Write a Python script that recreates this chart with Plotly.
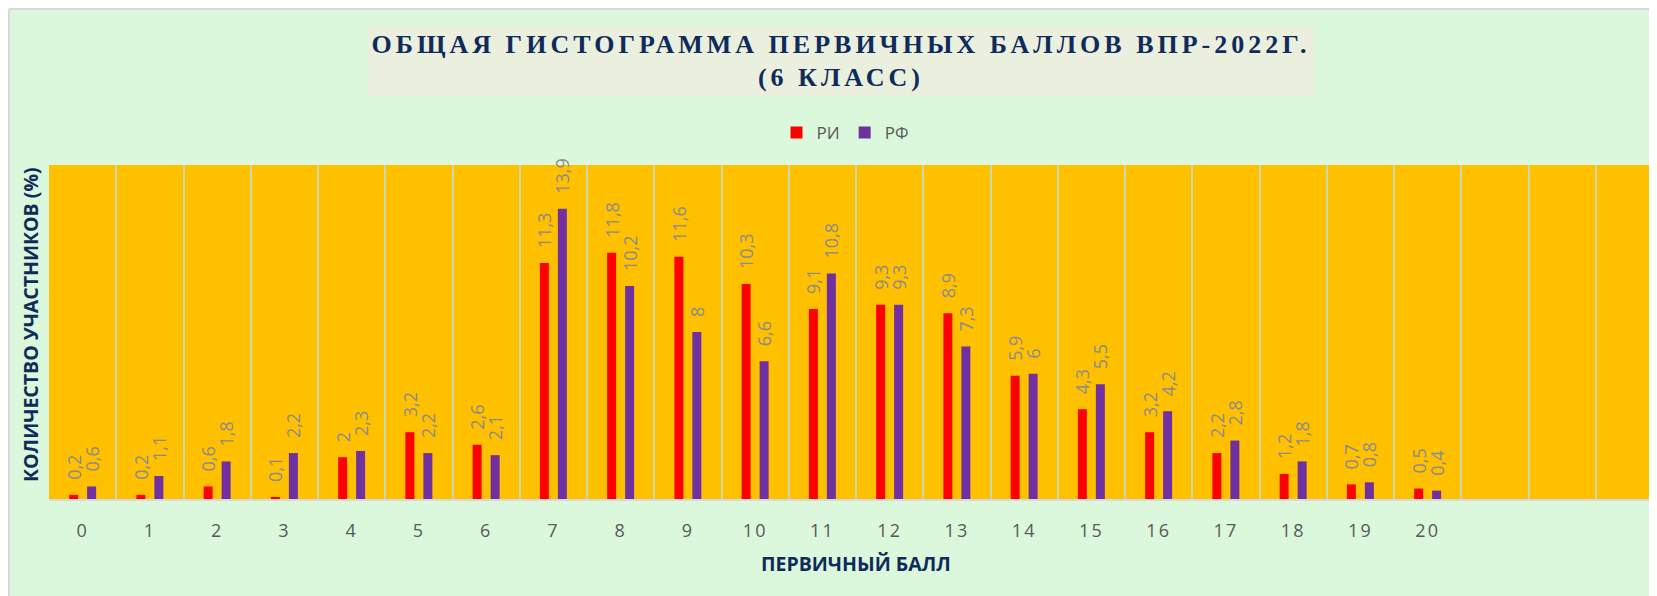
import plotly.graph_objects as go

# Primary score categories and shares of participants (%)
scores = list(range(21))
ri_values = [0.2, 0.2, 0.6, 0.1, 2, 3.2, 2.6, 11.3, 11.8, 11.6, 10.3, 9.1, 9.3, 8.9, 5.9, 4.3, 3.2, 2.2, 1.2, 0.7, 0.5]
rf_values = [0.6, 1.1, 1.8, 2.2, 2.3, 2.2, 2.1, 13.9, 10.2, 8, 6.6, 10.8, 9.3, 7.3, 6, 5.5, 4.2, 2.8, 1.8, 0.8, 0.4]
n_slots = 24  # the axis keeps three empty slots after 20

title_lines = ["ОБЩАЯ ГИСТОГРАММА ПЕРВИЧНЫХ БАЛЛОВ ВПР-2022Г.", "(6 КЛАСС)"]
y_title = "КОЛИЧЕСТВО УЧАСТНИКОВ (%)"
x_title = "ПЕРВИЧНЫЙ БАЛЛ"

# figure coordinates (the page adds its own 8px body margin)
W, H = 1657, 596
L, R, T, B = 41, 1655, 157, 491  # plot area in pixels


def px_x(x):
    return (x - L) / (R - L)


def px_y(y):
    return (B - y) / (B - T)


def fmt(v):
    # leading spaces leave the gap Excel puts between bar and label
    return "\u2002\u2009" + f"{v:g}".replace(".", ",")


def spaced(s, px):
    return f"<span style='letter-spacing:{px}px'>{s}</span>"


label_font = dict(family="Open Sans", size=18, color="#8C8C8C")
navy = "#0F2B5B"

fig = go.Figure()
fig.add_trace(go.Bar(
    x=scores, y=ri_values, name="РИ",
    marker=dict(color="#FF0000", line=dict(width=0)),
    text=[fmt(v) for v in ri_values],
    textposition="outside", textangle=-90, textfont=label_font,
    constraintext="none", cliponaxis=False,
))
fig.add_trace(go.Bar(
    x=scores, y=rf_values, name="РФ",
    marker=dict(color="#7030A0", line=dict(width=0)),
    text=[fmt(v) for v in rf_values],
    textposition="outside", textangle=-90, textfont=label_font,
    constraintext="none", cliponaxis=False,
))

fig.update_layout(
    width=W, height=H,
    margin=dict(l=L, r=W - R, t=T, b=H - B, pad=0),
    paper_bgcolor="#DBF8DC",
    plot_bgcolor="#FFC000",
    barmode="group",
    bargap=0.465,
    bargroupgap=0.5,
    showlegend=True,
    legend=dict(
        orientation="h", x=px_x(837), xanchor="center",
        y=px_y(125), yanchor="middle",
        font=dict(family="Open Sans", size=17, color="#595959"),
        bgcolor="rgba(0,0,0,0)", itemwidth=30,
    ),
    xaxis=dict(
        range=[-0.5, n_slots - 0.5],
        tickmode="array", tickvals=scores,
        ticktext=[spaced(s, 2) for s in scores],
        tickfont=dict(family="Open Sans", size=18, color="#595959"),
        ticks="", ticklabelstandoff=14,
        showgrid=False, zeroline=False,
        showline=True, linecolor="#D9D9D9", linewidth=2,
        minor=dict(tickmode="array", tickvals=[i - 0.5 for i in range(n_slots + 1)],
                   showgrid=True, gridcolor="#CDD6B2", gridwidth=2, ticks=""),
        fixedrange=True,
    ),
    yaxis=dict(
        range=[0, 16], showticklabels=False, showgrid=False,
        zeroline=False, ticks="", fixedrange=True,
    ),
    annotations=[
        dict(
            text="<b>" + "<br>".join(spaced(s, 4) for s in title_lines) + "</b>",
            xref="paper", yref="paper", x=px_x(833), y=px_y(17),
            xanchor="center", yanchor="top", showarrow=False,
            width=944, height=68, bgcolor="#EBEFDE", align="center", valign="middle",
            font=dict(family="Liberation Serif", size=26, color=navy),
        ),
        dict(
            text="<b>" + y_title + "</b>", textangle=-90,
            xref="paper", yref="paper", x=px_x(22), y=px_y(317),
            xanchor="center", yanchor="middle", showarrow=False,
            font=dict(family="Open Sans", size=19.5, color=navy),
        ),
        dict(
            text="<b>" + x_title + "</b>",
            xref="paper", yref="paper", x=px_x(848), y=px_y(555),
            xanchor="center", yanchor="middle", showarrow=False,
            font=dict(family="Open Sans", size=19.5, color=navy),
        ),
    ],
    shapes=[
        # thin frame along the chart's top and left edges
        dict(type="line", xref="paper", yref="paper",
             x0=px_x(1), x1=px_x(1), y0=px_y(H), y1=px_y(1),
             line=dict(color="#D9D9D9", width=2)),
        dict(type="line", xref="paper", yref="paper",
             x0=px_x(1), x1=px_x(W), y0=px_y(1), y1=px_y(1),
             line=dict(color="#D9D9D9", width=2)),
    ],
)

fig.write_html("out.html")
